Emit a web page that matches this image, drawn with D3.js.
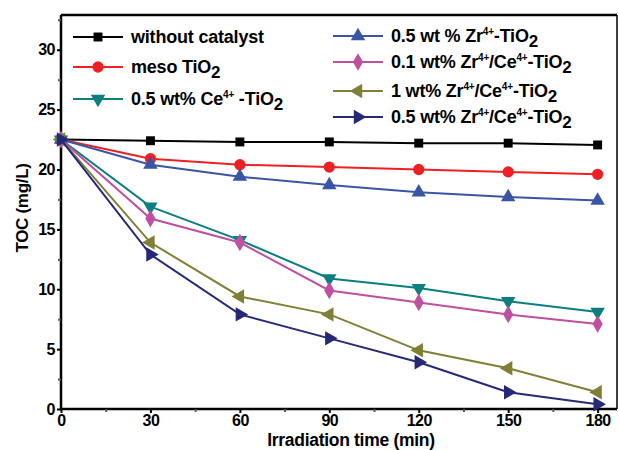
<!DOCTYPE html>
<html><head><meta charset="utf-8">
<script src="https://cdn.jsdelivr.net/npm/d3@7"></script>
<style>body{margin:0;background:#fff}svg{display:block}text{font-family:"Liberation Sans",Arial,sans-serif;font-weight:bold}</style>
</head><body>
<script>
const times = [0, 30, 60, 90, 120, 150, 180];
const withoutCatalyst = [22.5, 22.4, 22.3, 22.3, 22.2, 22.2, 22.05];
const mesoTiO2 = [22.5, 20.9, 20.4, 20.2, 20.0, 19.8, 19.6];
const ceTiO2 = [22.5, 16.9, 14.1, 10.9, 10.1, 9.0, 8.1];
const zrTiO2 = [22.5, 20.4, 19.4, 18.7, 18.1, 17.7, 17.4];
const zrCe01 = [22.5, 15.9, 13.9, 9.9, 8.9, 7.9, 7.1];
const zrCe1 = [22.5, 13.9, 9.4, 7.9, 4.9, 3.4, 1.4];
const zrCe05 = [22.5, 12.9, 7.9, 5.9, 3.9, 1.4, 0.4];
const xTicks = [0, 30, 60, 90, 120, 150, 180];
const yTicks = [0, 5, 10, 15, 20, 25, 30];

const W = 619, H = 450;
const m = {l: 61, r: 2, t: 15, b: 40};
const svg = d3.select("body").append("svg").attr("width", W).attr("height", H);
const x = d3.scaleLinear().domain([0, 186.5]).range([m.l, W - m.r]);
const y = d3.scaleLinear().domain([0, 32.9]).range([409, m.t]);

const series = [
  {v: withoutCatalyst, c: "#000000", s: d3.symbolSquare, rot: 0, size: 80},
  {v: mesoTiO2, c: "#ee2024", s: d3.symbolCircle, rot: 0, size: 100},
  {v: ceTiO2, c: "#0b7f7d", s: d3.symbolTriangle, rot: 180, size: 90},
  {v: zrTiO2, c: "#3b55a6", s: d3.symbolTriangle, rot: 0, size: 90},
  {v: zrCe01, c: "#bf50a0", s: d3.symbolDiamond, rot: 0, size: 90},
  {v: zrCe1, c: "#7f7f36", s: d3.symbolTriangle, rot: -90, size: 90},
  {v: zrCe05, c: "#262878", s: d3.symbolTriangle, rot: 90, size: 90}
];

// frame
const g = svg.append("g");
g.append("line").attr("x1", m.l).attr("x2", W - m.r).attr("y1", y(0)).attr("y2", y(0)).attr("stroke", "#000").attr("stroke-width", 2.5);
g.append("line").attr("x1", m.l).attr("x2", m.l).attr("y1", y(0)).attr("y2", m.t).attr("stroke", "#000").attr("stroke-width", 2.5);
g.append("line").attr("x1", m.l).attr("x2", W - m.r).attr("y1", m.t).attr("y2", m.t).attr("stroke", "#000").attr("stroke-width", 2.5);
g.append("line").attr("x1", W - m.r).attr("x2", W - m.r).attr("y1", y(0)).attr("y2", m.t).attr("stroke", "#000").attr("stroke-width", 1.5);

const xAxis = d3.axisBottom(x).tickValues(xTicks).tickSize(4).tickPadding(2).tickFormat(d3.format("d"));
const xa = svg.append("g").attr("transform", `translate(0,${y(0)})`).call(xAxis);
xa.select(".domain").remove();
xa.selectAll("line").attr("stroke-width", 2);
xa.selectAll("text").attr("font-size", 16).attr("letter-spacing", -0.5).attr("fill", "#000").attr("font-family", "Liberation Sans, Arial").attr("font-weight", "bold");
const xMinor = svg.append("g").attr("transform", `translate(0,${y(0)})`).call(d3.axisBottom(x).tickValues([15, 45, 75, 105, 135, 165]).tickSize(3).tickFormat(""));
xMinor.select(".domain").remove();
xMinor.selectAll("line").attr("stroke-width", 2).attr("stroke", "#555");

const yAxis = d3.axisLeft(y).tickValues(yTicks).tickSize(4).tickPadding(2);
const ya = svg.append("g").attr("transform", `translate(${m.l},0)`).call(yAxis);
ya.select(".domain").remove();
ya.selectAll("line").attr("stroke-width", 2);
ya.selectAll("text").attr("font-size", 16).attr("letter-spacing", -0.5).attr("fill", "#000").attr("font-family", "Liberation Sans, Arial").attr("font-weight", "bold");
const yMinor = svg.append("g").attr("transform", `translate(${m.l},0)`).call(d3.axisLeft(y).tickValues([2.5, 7.5, 12.5, 17.5, 22.5, 27.5, 32.5]).tickSize(3).tickFormat(""));
yMinor.select(".domain").remove();
yMinor.selectAll("line").attr("stroke-width", 2).attr("stroke", "#555");

svg.append("text").attr("x", 351).attr("y", 446).attr("text-anchor", "middle").attr("font-size", 17.5).attr("letter-spacing", -0.3).text("Irradiation time (min)");
svg.append("text").attr("transform", `translate(28,208) rotate(-90)`).attr("text-anchor", "middle").attr("font-size", 17).attr("letter-spacing", -0.3).text("TOC (mg/L)");

// lines and markers
const line = d3.line().x((d, i) => x(times[i])).y(d => y(d));
series.forEach(s => {
  svg.append("path").datum(s.v).attr("d", line).attr("fill", "none").attr("stroke", s.c).attr("stroke-width", 2);
  svg.selectAll(null).data(s.v).enter().append("path")
    .attr("d", d3.symbol().type(s.s).size(s.size))
    .attr("transform", (d, i) => `translate(${x(times[i])},${y(d)}) rotate(${s.rot})`)
    .attr("fill", s.c);
});

// legend
function legendItem(cx, cy, len, s, parts) {
  svg.append("line").attr("x1", cx).attr("x2", cx + len).attr("y1", cy).attr("y2", cy).attr("stroke", s.c).attr("stroke-width", 2);
  svg.append("path").attr("d", d3.symbol().type(s.s).size(s.size)).attr("transform", `translate(${cx + len / 2},${cy}) rotate(${s.rot})`).attr("fill", s.c);
  const t = svg.append("text").attr("x", cx + len + 8).attr("y", cy + 6).attr("font-size", 18).attr("letter-spacing", -0.2);
  parts.forEach(p => {
    const ts = t.append("tspan").text(p[0]);
    if (p[1] === "sup") ts.attr("font-size", 10).attr("dy", -7);
    else if (p[1] === "sub") ts.attr("font-size", 17).attr("dy", 5);
    else if (p[1] === "back") ts.attr("dy", 7);
  });
}
legendItem(73, 37, 50, series[0], [["without catalyst"]]);
legendItem(73, 67, 50, series[1], [["meso TiO"], ["2", "sub"]]);
legendItem(73, 99, 50, series[2], [["0.5 wt% Ce"], ["4+", "sup"], [" -TiO", "back"], ["2", "sub"]]);
legendItem(333, 36, 50, series[3], [[" 0.5 wt % Zr"], ["4+", "sup"], ["-TiO", "back"], ["2", "sub"]]);
legendItem(333, 62, 50, series[4], [["0.1 wt% Zr"], ["4+", "sup"], ["/Ce", "back"], ["4+", "sup"], ["-TiO", "back"], ["2", "sub"]]);
legendItem(333, 91, 50, series[5], [["1 wt% Zr"], ["4+", "sup"], ["/Ce", "back"], ["4+", "sup"], ["-TiO", "back"], ["2", "sub"]]);
legendItem(333, 117, 50, series[6], [["0.5 wt% Zr"], ["4+", "sup"], ["/Ce", "back"], ["4+", "sup"], ["-TiO", "back"], ["2", "sub"]]);
</script>
</body></html>
